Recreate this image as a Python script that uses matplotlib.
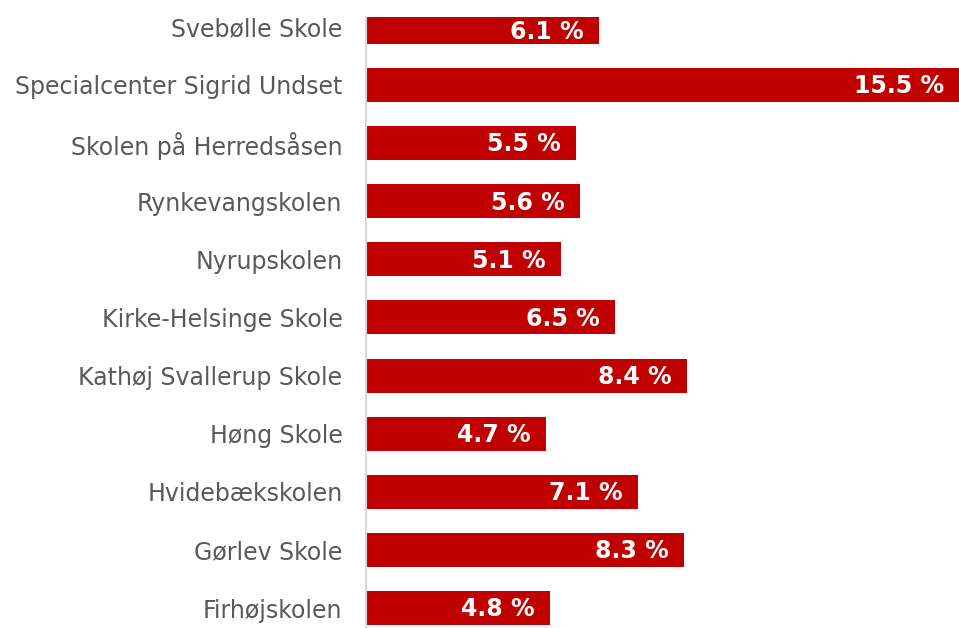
import matplotlib.pyplot as plt

# schools, top to bottom as shown in the chart
schools = ["Svebølle Skole", "Specialcenter Sigrid Undset", "Skolen på Herredsåsen",
           "Rynkevangskolen", "Nyrupskolen", "Kirke-Helsinge Skole",
           "Kathøj Svallerup Skole", "Høng Skole", "Hvidebækskolen",
           "Gørlev Skole", "Firhøjskolen"]
pct = [6.1, 15.5, 5.5, 5.6, 5.1, 6.5, 8.4, 4.7, 7.1, 8.3, 4.8]

bar_h = 0.585
ylo, yhi = -0.344, 10.17

fig = plt.figure(figsize=(9.59, 6.28), dpi=100)
ax = fig.add_axes([366 / 959, 0, (959 - 366) / 959, (628 - 17) / 628])

ypos = list(range(len(schools)))[::-1]
ax.barh(ypos, pct, height=bar_h, color="#c00000")

# label sits in the middle of the visible part of each bar
for y, v in zip(ypos, pct):
    yc = (max(y - bar_h / 2, ylo) + min(y + bar_h / 2, yhi)) / 2
    ax.annotate(f"{v:.1f} %", xy=(v, yc), xytext=(-11, -1), textcoords="offset points",
                ha="right", va="center", color="white", fontsize=17, fontweight="bold")

ax.set_xlim(0, 15.5)
ax.set_ylim(ylo, yhi)
ax.set_yticks(ypos)
ax.set_yticklabels(schools, fontsize=17, color="#595959")
ax.tick_params(axis="y", length=0, pad=17)
ax.set_xticks([])
for s in ["top", "right", "bottom"]:
    ax.spines[s].set_visible(False)
ax.spines["left"].set_color("#d9d9d9")
ax.spines["left"].set_linewidth(1.5)

fig.savefig("out.png", dpi=100)
